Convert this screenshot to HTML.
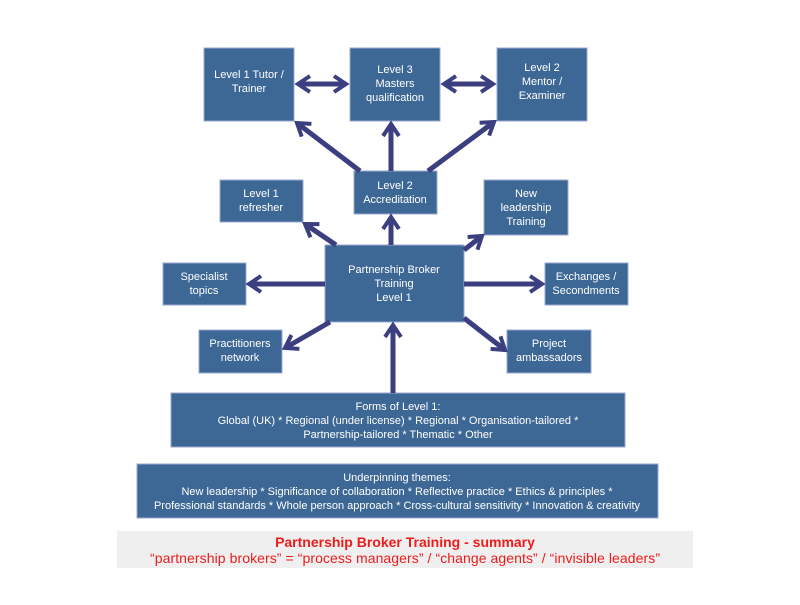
<!DOCTYPE html>
<html><head><meta charset="utf-8"><style>
body{margin:0;background:#fff;width:800px;height:600px;overflow:hidden;font-family:"Liberation Sans",sans-serif}
</style></head><body>
<svg width="800" height="600" xmlns="http://www.w3.org/2000/svg" font-family="Liberation Sans, sans-serif">
<defs>
<marker id="a" viewBox="0 0 10 10" refX="8" refY="5" markerWidth="4" markerHeight="4" orient="auto-start-reverse" markerUnits="strokeWidth">
<polyline points="2,1 8,5 2,9" fill="none" stroke="#3b3f80" stroke-width="2"/>
</marker>
</defs>
<rect x="117" y="531" width="576" height="37" fill="#efefef"/>
<g fill="#3d6795" stroke="#9aa8d0" stroke-width="1">
<rect x="204" y="48" width="90" height="73"/>
<rect x="350" y="48" width="90" height="73"/>
<rect x="497" y="48" width="90" height="73"/>
<rect x="354" y="171" width="83" height="43"/>
<rect x="220" y="180" width="83" height="42"/>
<rect x="484" y="180" width="84" height="55"/>
<rect x="325" y="245" width="139" height="77"/>
<rect x="163" y="263" width="83" height="42"/>
<rect x="545" y="263" width="83" height="42"/>
<rect x="199" y="330" width="83" height="43"/>
<rect x="507" y="330" width="84" height="43"/>
<rect x="171" y="393" width="454" height="54"/>
<rect x="137" y="464" width="521" height="54"/>
</g>
<g stroke="#3b3f80" stroke-width="5" fill="none">
<line x1="298" y1="84" x2="346" y2="84" marker-start="url(#a)" marker-end="url(#a)"/>
<line x1="444" y1="84" x2="493" y2="84" marker-start="url(#a)" marker-end="url(#a)"/>
<line x1="360" y1="171" x2="297" y2="123" marker-end="url(#a)"/>
<line x1="391" y1="171" x2="391" y2="124" marker-end="url(#a)"/>
<line x1="428" y1="171" x2="494" y2="122" marker-end="url(#a)"/>
<line x1="391" y1="245" x2="391" y2="217" marker-end="url(#a)"/>
<line x1="336" y1="245" x2="305" y2="224" marker-end="url(#a)"/>
<line x1="464" y1="250" x2="482" y2="236" marker-end="url(#a)"/>
<line x1="325" y1="284" x2="249" y2="284" marker-end="url(#a)"/>
<line x1="464" y1="284" x2="542" y2="284" marker-end="url(#a)"/>
<line x1="330" y1="322" x2="285" y2="348" marker-end="url(#a)"/>
<line x1="464" y1="318" x2="505" y2="350" marker-end="url(#a)"/>
<line x1="393" y1="393" x2="393" y2="325" marker-end="url(#a)"/>
</g>
<g fill="#fff" font-size="11" text-anchor="middle">
<text x="249" y="78">Level 1 Tutor /</text><text x="249" y="92">Trainer</text>
<text x="395" y="73">Level 3</text><text x="395" y="87">Masters</text><text x="395" y="101">qualification</text>
<text x="542" y="71">Level 2</text><text x="542" y="85">Mentor /</text><text x="542" y="99">Examiner</text>
<text x="395" y="189">Level 2</text><text x="395" y="203">Accreditation</text>
<text x="261" y="197">Level 1</text><text x="261" y="211">refresher</text>
<text x="526" y="197">New</text><text x="526" y="211">leadership</text><text x="526" y="225">Training</text>
<text x="394" y="273">Partnership Broker</text><text x="394" y="287">Training</text><text x="394" y="301">Level 1</text>
<text x="204" y="280">Specialist</text><text x="204" y="294">topics</text>
<text x="586" y="280">Exchanges /</text><text x="586" y="294">Secondments</text>
<text x="240" y="347">Practitioners</text><text x="240" y="361">network</text>
<text x="549" y="347">Project</text><text x="549" y="361">ambassadors</text>
<text x="398" y="410">Forms of Level 1:</text>
<text x="398" y="424">Global (UK) * Regional (under license) * Regional * Organisation-tailored *</text>
<text x="398" y="438">Partnership-tailored * Thematic * Other</text>
<text x="397" y="481">Underpinning themes:</text>
<text x="397" y="495">New leadership * Significance of collaboration * Reflective practice * Ethics &amp; principles *</text>
<text x="397" y="509">Professional standards * Whole person approach * Cross-cultural sensitivity * Innovation &amp; creativity</text>
</g>
<text x="405" y="547" fill="#ee1c1c" font-size="14" font-weight="bold" text-anchor="middle">Partnership Broker Training - summary</text>
<text x="405" y="563" fill="#ee1c1c" font-size="14" text-anchor="middle" textLength="510">“partnership brokers” = “process managers” / “change agents” / “invisible leaders”</text>
</svg>
</body></html>
